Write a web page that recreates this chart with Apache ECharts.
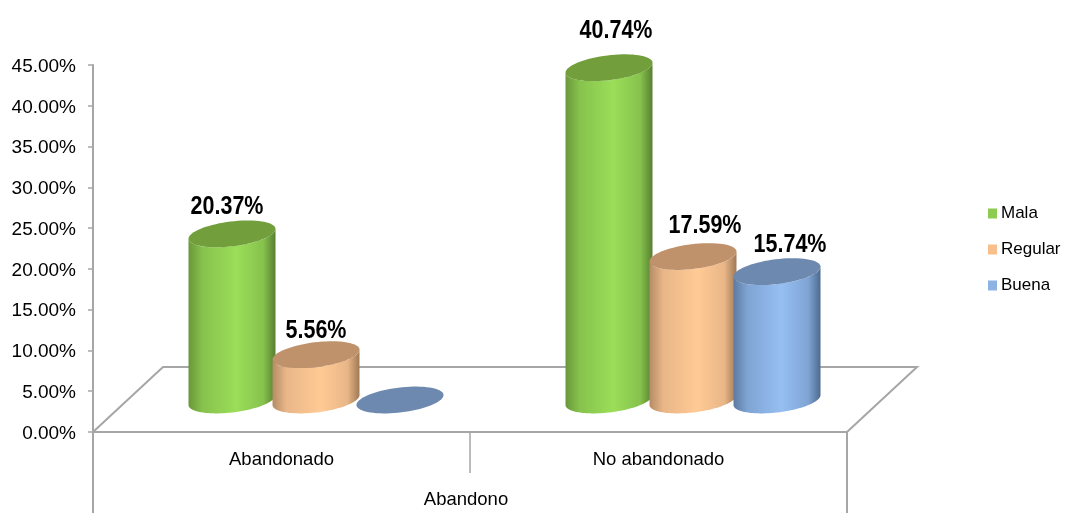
<!DOCTYPE html>
<html><head><meta charset="utf-8">
<style>html,body{margin:0;padding:0;background:#fff}#c{width:1066px;height:517px}</style>
<script src="https://cdn.jsdelivr.net/npm/echarts@6/dist/echarts.min.js"></script>
</head><body><div id="c"></div>
<script>
const categories = ['Abandonado', 'No abandonado'];
const mala = [20.37, 40.74];
const regular = [5.56, 17.59];
const buena = [0, 15.74];
const axisTitle = 'Abandono';

const DEPTH_X = 70, DEPTH_Y = 65;          // floor depth
const BASE_X = 34.5, BASE_Y = 32;          // cylinder cluster offset on the floor
const STEP = 84, RX = 43.8, RY = 12.4, TILT = 7 * Math.PI / 180;
const labelShift = {
  Mala: [[-5, -27], [7, -37]],
  Regular: [[0, -24], [12, -30]],
  Buena: [[0, 0], [13, -27]]
};
const font = '"Liberation Sans", Arial, sans-serif';
const grey = '#a6a6a6';

function ell(cx, cy, t) {
  const c = Math.cos(t), s = Math.sin(t), cp = Math.cos(TILT), sp = Math.sin(TILT);
  return [cx + RX * c * cp - RY * s * sp, cy - RX * c * sp - RY * s * cp];
}
function ellipsePts(cx, cy) {
  const p = [];
  for (let i = 0; i < 72; i++) p.push(ell(cx, cy, i / 72 * 2 * Math.PI));
  return p;
}
function bodyPts(cx, top, bot) {
  const t0 = Math.atan2(-RY * Math.sin(TILT), RX * Math.cos(TILT));
  const p = [];
  for (let i = 0; i <= 48; i++) p.push(ell(cx, bot, t0 - i / 48 * Math.PI));
  for (let i = 0; i <= 48; i++) p.push(ell(cx, top, t0 - Math.PI + i / 48 * Math.PI));
  return p;
}
function grad(edge, mid, edge2) {
  return { type: 'linear', x: 0, y: 0, x2: 1, y2: 0, colorStops: [
    { offset: 0, color: edge }, { offset: 0.16, color: mid[0] }, { offset: 0.55, color: mid[1] },
    { offset: 0.86, color: mid[0] }, { offset: 1, color: edge2 } ] };
}
function cylinder(idx, name, side, topColor) {
  return function (params, api) {
    const cat = api.value(0), v = api.value(1);
    const base = api.coord([cat, 0]), head = api.coord([cat, v]);
    const cx = base[0] + BASE_X + (idx - 1) * STEP;
    const yb = base[1] - BASE_Y, yt = head[1] - BASE_Y;
    const children = [];
    if (v > 0) {
      children.push({ type: 'polygon', shape: { points: bodyPts(cx, yt, yb) }, style: { fill: side } });
    }
    children.push({ type: 'polygon', shape: { points: ellipsePts(cx, yt) }, style: { fill: topColor } });
    if (v > 0) {
      const sh = labelShift[name][cat];
      children.push({ type: 'text', x: cx + sh[0], y: yt + sh[1], scaleX: 0.86,
        style: { text: v.toFixed(2) + '%', fill: '#000', align: 'center', verticalAlign: 'middle',
                 font: 'bold 25px "Liberation Sans", sans-serif' } });
    }
    return { type: 'group', children };
  };
}
const greenSide = grad('#6a973a', ['#86c24d', '#9bde58'], '#587f30');
const orangeSide = grad('#b58c66', ['#e9b688', '#ffca94'], '#a07955');
const blueSide = grad('#5c7aa1', ['#7fa4d4', '#96bff2'], '#4d6a8e');

function row(arr) { return arr.map((v, i) => [i, v]); }

const chart = echarts.init(document.getElementById('c'), null, { renderer: 'canvas' });
chart.setOption({
  animation: false,
  backgroundColor: '#fff',
  grid: { left: 93, top: 65, width: 754, height: 367, containLabel: false },
  legend: {
    orient: 'vertical', left: 988, top: 204, padding: 0, itemWidth: 9, itemHeight: 10, itemGap: 17, icon: 'rect',
    textStyle: { fontFamily: font, fontSize: 17, color: '#000', padding: [0, 0, 0, -1], lineHeight: 19 },
    data: ['Mala', 'Regular', 'Buena']
  },
  xAxis: {
    type: 'category', data: categories,
    axisLine: { lineStyle: { color: grey, width: 2 } },
    axisTick: { show: true, length: 41, lineStyle: { color: grey, width: 1.5 } },
    axisLabel: { margin: 18, fontFamily: font, fontSize: 18.5, color: '#000' },
    name: axisTitle, nameLocation: 'middle', nameGap: 58,
    nameTextStyle: { fontFamily: font, fontSize: 18.5, color: '#000', padding: [0, 8, 0, 0] }
  },
  yAxis: {
    type: 'value', min: 0, max: 45, interval: 5,
    axisLine: { show: true, lineStyle: { color: grey, width: 2 } },
    axisTick: { show: true, length: 5, lineStyle: { color: grey, width: 1.5 } },
    splitLine: { show: false },
    axisLabel: { margin: 17, color: '#000', formatter: v => '{t|' + v.toFixed(2) + '%}',
      rich: { t: { fontFamily: font, fontSize: 19, color: '#000', padding: [3, 0, 0, 0] } } }
  },
  series: [
    { type: 'custom', name: 'Floor', z: 1, silent: true, data: [[0, 0]], encode: { x: 0, y: 1 },
      renderItem: function (params, api) {
        const g = params.coordSys, yb = g.y + g.height, xl = g.x, xr = g.x + g.width;
        return { type: 'group', children: [
          { type: 'polyline', shape: { points: [[xl, yb], [xl + DEPTH_X, yb - DEPTH_Y], [xr + DEPTH_X, yb - DEPTH_Y], [xr, yb]] },
            style: { stroke: grey, lineWidth: 2, fill: null } },
          { type: 'line', shape: { x1: xl, y1: yb, x2: xl, y2: yb + 81 }, style: { stroke: grey, lineWidth: 2 } },
          { type: 'line', shape: { x1: xr, y1: yb, x2: xr, y2: yb + 81 }, style: { stroke: grey, lineWidth: 2 } }
        ] };
      } },
    { type: 'custom', name: 'Mala', z: 5, itemStyle: { color: '#8ccb4f' }, data: row(mala), encode: { x: 0, y: 1 },
      renderItem: cylinder(0, 'Mala', greenSide, '#729f3c') },
    { type: 'custom', name: 'Regular', z: 6, itemStyle: { color: '#f8be8c' }, data: row(regular), encode: { x: 0, y: 1 },
      renderItem: cylinder(1, 'Regular', orangeSide, '#bf926b') },
    { type: 'custom', name: 'Buena', z: 7, itemStyle: { color: '#8cb3e2' }, data: row(buena), encode: { x: 0, y: 1 },
      renderItem: cylinder(2, 'Buena', blueSide, '#6d89af') }
  ]
});
</script></body></html>
